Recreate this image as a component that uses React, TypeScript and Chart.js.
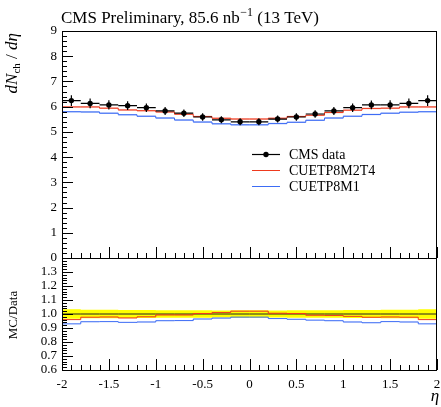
import React, { useEffect, useRef } from 'react';
import { Chart, registerables } from 'chart.js';

Chart.register(...registerables);

// ---------- data ----------
const binEdges = [-2, -1.8, -1.6, -1.4, -1.2, -1, -0.8, -0.6, -0.4, -0.2, 0, 0.2, 0.4, 0.6, 0.8, 1, 1.2, 1.4, 1.6, 1.8, 2];
const cmsData = [6.24, 6.13, 6.07, 6.04, 5.96, 5.83, 5.74, 5.59, 5.48, 5.40, 5.40, 5.51, 5.59, 5.71, 5.83, 5.96, 6.07, 6.07, 6.13, 6.24];
const cmsErr = [0.21, 0.19, 0.18, 0.17, 0.17, 0.16, 0.15, 0.15, 0.14, 0.14, 0.14, 0.14, 0.15, 0.15, 0.16, 0.17, 0.17, 0.18, 0.19, 0.21];
const cuetp8m2t4 = [5.99, 5.99, 5.94, 5.87, 5.84, 5.79, 5.70, 5.61, 5.54, 5.51, 5.51, 5.54, 5.61, 5.66, 5.77, 5.86, 5.93, 5.94, 5.99, 5.99];
const cuetp8m1 = [5.80, 5.79, 5.74, 5.68, 5.62, 5.55, 5.47, 5.39, 5.32, 5.28, 5.28, 5.33, 5.38, 5.46, 5.55, 5.62, 5.69, 5.74, 5.78, 5.80];
const mcErr = [0.03, 0.03, 0.03, 0.03, 0.03, 0.03, 0.03, 0.03, 0.03, 0.03, 0.03, 0.03, 0.03, 0.03, 0.03, 0.03, 0.03, 0.03, 0.03, 0.03];

const seriesNames = ['CMS data', 'CUETP8M2T4', 'CUETP8M1'];
const etaTicks = [-2, -1.5, -1, -0.5, 0, 0.5, 1, 1.5, 2];
const etaTickLabels = ['-2', '-1.5', '-1', '-0.5', '0', '0.5', '1', '1.5', '2'];
const mainYTicks = [0, 1, 2, 3, 4, 5, 6, 7, 8, 9];
const mainYTickLabels = ['0', '1', '2', '3', '4', '5', '6', '7', '8', '9'];
const ratioYTicks = [0.6, 0.7, 0.8, 0.9, 1.0, 1.1, 1.2, 1.3];
const ratioYTickLabels = ['0.6', '0.7', '0.8', '0.9', '1.0', '1.1', '1.2', '1.3'];

// ---------- style / layout ----------
const W = 441;
const H = 407;
const PLOT_LEFT = 62;
const PLOT_RIGHT = 439;
const PLOT_TOP = 31;
const PLOT_SPLIT = 258;
const PLOT_BOTTOM = 370;
const MAIN_MAX = 9;
const RATIO_MIN = 0.6;
const RATIO_TOP = 1.4;
const FONT = '"Liberation Serif", "Times New Roman", serif';
const RED = '#ee3a1e';
const BLUE = '#3d6cf5';
const RED_BAND = 'rgba(240, 90, 70, 0.45)';
const BLUE_BAND = 'rgba(90, 130, 245, 0.45)';
const YELLOW = '#ffff00';

const MAIN_MIN = -MAIN_MAX * (PLOT_BOTTOM - PLOT_SPLIT) / (PLOT_SPLIT - PLOT_TOP);
const RATIO_MAX = RATIO_MIN + (RATIO_TOP - RATIO_MIN) * (PLOT_BOTTOM - PLOT_TOP) / (PLOT_BOTTOM - PLOT_SPLIT);

function stepPts(vals: number[]) {
  return binEdges.map((x, i) => ({ x, y: vals[Math.min(i, vals.length - 1)] }));
}

const decor = {
  id: 'decor',
  afterDatasetsDraw(chart: any) {
    const ctx = chart.ctx as CanvasRenderingContext2D;
    const xs = chart.scales.x;
    const ys = chart.scales.yMain;
    ctx.save();
    ctx.strokeStyle = '#000';
    ctx.lineWidth = 1.2;
    for (let i = 0; i < cmsData.length; i++) {
      const xc = xs.getPixelForValue((binEdges[i] + binEdges[i + 1]) / 2);
      const x0 = xs.getPixelForValue(binEdges[i]);
      const x1 = xs.getPixelForValue(binEdges[i + 1]);
      const yc = ys.getPixelForValue(cmsData[i]);
      const ylo = ys.getPixelForValue(cmsData[i] - cmsErr[i]);
      const yhi = ys.getPixelForValue(cmsData[i] + cmsErr[i]);
      ctx.beginPath();
      ctx.moveTo(x0, yc);
      ctx.lineTo(x1, yc);
      ctx.moveTo(xc, ylo);
      ctx.lineTo(xc, yhi);
      ctx.stroke();
    }
    ctx.restore();
  },
  afterDraw(chart: any) {
    const ctx = chart.ctx as CanvasRenderingContext2D;
    const xs = chart.scales.x;
    const ys = chart.scales.yMain;
    const rs = chart.scales.yRatio;
    const L = Math.round(xs.getPixelForValue(-2));
    const R = Math.round(xs.getPixelForValue(2)) - 1;
    const T = Math.round(ys.getPixelForValue(MAIN_MAX));
    const S = Math.round(ys.getPixelForValue(0));
    const B = Math.round(rs.getPixelForValue(RATIO_MIN));
    ctx.save();
    ctx.strokeStyle = '#000';
    ctx.lineWidth = 1;
    // frames
    ctx.strokeRect(L + 0.5, T + 0.5, R - L, S - T);
    ctx.strokeRect(L + 0.5, S + 0.5, R - L, B - S);
    // ticks
    ctx.beginPath();
    for (let k = -20; k <= 20; k++) {
      const v = k / 10;
      const px = Math.round(xs.getPixelForValue(v)) + 0.5;
      const len = k % 5 === 0 ? 11 : 5;
      ctx.moveTo(px, S);
      ctx.lineTo(px, S - len);
      ctx.moveTo(px, B);
      ctx.lineTo(px, B - len);
    }
    for (let k = 0; k < 45; k++) {
      const v = k * 0.2;
      const py = Math.round(ys.getPixelForValue(v)) + 0.5;
      const len = k % 5 === 0 ? 11 : 5;
      ctx.moveTo(L, py);
      ctx.lineTo(L + len, py);
    }
    for (let k = 30; k < 70; k++) {
      const v = k / 50;
      const py = Math.round(rs.getPixelForValue(v)) + 0.5;
      const len = k % 5 === 0 ? 11 : 5;
      ctx.moveTo(L, py);
      ctx.lineTo(L + len, py);
    }
    ctx.stroke();

    // tick labels
    ctx.fillStyle = '#000';
    ctx.font = `13px ${FONT}`;
    ctx.textAlign = 'right';
    ctx.textBaseline = 'middle';
    mainYTicks.forEach((v, i) => {
      ctx.fillText(mainYTickLabels[i], L - 5, ys.getPixelForValue(v));
    });
    ratioYTicks.forEach((v, i) => {
      ctx.fillText(ratioYTickLabels[i], L - 5, rs.getPixelForValue(v));
    });
    ctx.textAlign = 'center';
    ctx.textBaseline = 'alphabetic';
    etaTicks.forEach((v, i) => {
      ctx.fillText(etaTickLabels[i], xs.getPixelForValue(v), B + 18);
    });

    // x axis title
    ctx.font = `italic 17px ${FONT}`;
    ctx.textAlign = 'center';
    ctx.fillText('η', 435, 401);

    // title
    ctx.textAlign = 'left';
    ctx.textBaseline = 'alphabetic';
    let tx = 61;
    const ty = 23;
    ctx.font = `17px ${FONT}`;
    const t1 = 'CMS Preliminary, 85.6 nb';
    ctx.fillText(t1, tx, ty);
    tx += ctx.measureText(t1).width;
    ctx.font = `12px ${FONT}`;
    const t2 = '−1';
    ctx.fillText(t2, tx + 0.5, ty - 7);
    tx += ctx.measureText(t2).width + 0.5;
    ctx.font = `17px ${FONT}`;
    ctx.fillText(' (13 TeV)', tx, ty);

    // y axis title (rotated): dN_ch / dη
    ctx.save();
    ctx.translate(17, 33);
    ctx.rotate(-Math.PI / 2);
    const parts: [string, string, number][] = [
      ['d', `italic 17px ${FONT}`, 0],
      ['N', `italic 17px ${FONT}`, 0],
      ['ch', `11px ${FONT}`, 3],
      [' / ', `17px ${FONT}`, 0],
      ['d', `italic 17px ${FONT}`, 0],
      ['η', `italic 17px ${FONT}`, 0],
    ];
    let total = 0;
    parts.forEach(([s, f]) => { ctx.font = f; total += ctx.measureText(s).width; });
    let px = -total;
    ctx.textAlign = 'left';
    parts.forEach(([s, f, dy]) => {
      ctx.font = f;
      ctx.fillText(s, px, dy);
      px += ctx.measureText(s).width;
    });
    ctx.restore();

    ctx.save();
    ctx.translate(17, (S + B) / 2 + 1);
    ctx.rotate(-Math.PI / 2);
    ctx.font = `13px ${FONT}`;
    ctx.textAlign = 'center';
    ctx.fillText('MC/Data', 0, 0);
    ctx.restore();

    // legend
    const colors = ['#000', RED, BLUE];
    ctx.font = `14px ${FONT}`;
    ctx.textBaseline = 'middle';
    ctx.textAlign = 'left';
    seriesNames.forEach((name, i) => {
      const yl = 154 + i * 16;
      ctx.strokeStyle = colors[i];
      ctx.lineWidth = i === 0 ? 1.2 : 1;
      ctx.beginPath();
      ctx.moveTo(252, yl + 0.5);
      ctx.lineTo(280, yl + 0.5);
      ctx.stroke();
      if (i === 0) {
        ctx.fillStyle = '#000';
        ctx.beginPath();
        ctx.arc(266, yl + 0.5, 2.7, 0, Math.PI * 2);
        ctx.fill();
      }
      ctx.fillStyle = '#000';
      ctx.fillText(name, 289, yl + 1);
    });
    ctx.restore();
  },
};

export default function App() {
  const ref = useRef<HTMLCanvasElement>(null);
  useEffect(() => {
    const canvas = ref.current;
    if (!canvas) return;
    const centers = binEdges.slice(0, -1).map((e, i) => (e + binEdges[i + 1]) / 2);
    const ratioOf = (vals: number[]) => vals.map((v, i) => v / cmsData[i]);
    const redRatio = ratioOf(cuetp8m2t4);
    const blueRatio = ratioOf(cuetp8m1);
    const dataRelErr = cmsErr.map((e, i) => e / cmsData[i]);
    const mcRelErr = mcErr.map((e, i) => e / cmsData[i]);
    const none = 'rgba(0,0,0,0)';
    const stepBase = { stepped: 'before' as const, pointRadius: 0, borderWidth: 1, fill: false };
    const bandLower = (vals: number[], axis: string, order: number) => ({
      ...stepBase, data: stepPts(vals), yAxisID: axis, borderColor: none, borderWidth: 0, order,
    });
    const bandUpper = (vals: number[], axis: string, order: number, color: string) => ({
      ...stepBase, data: stepPts(vals), yAxisID: axis, borderColor: none, borderWidth: 0, order,
      fill: '-1', backgroundColor: color,
    });

    const datasets: any[] = [
      // ratio panel
      bandLower(dataRelErr.map((e) => 1 - e), 'yRatio', 30),
      bandUpper(dataRelErr.map((e) => 1 + e), 'yRatio', 30, YELLOW),
      bandLower(redRatio.map((v, i) => v - mcRelErr[i] * 0.3), 'yRatio', 25),
      bandUpper(redRatio.map((v, i) => v + mcRelErr[i] * 0.3), 'yRatio', 25, RED_BAND),
      bandLower(blueRatio.map((v, i) => v - mcRelErr[i] * 0.3), 'yRatio', 25),
      bandUpper(blueRatio.map((v, i) => v + mcRelErr[i] * 0.3), 'yRatio', 25, BLUE_BAND),
      { ...stepBase, data: stepPts(cmsData.map(() => 1)), yAxisID: 'yRatio', borderColor: '#222', order: 20 },
      { ...stepBase, data: stepPts(redRatio), yAxisID: 'yRatio', borderColor: RED, order: 10 },
      { ...stepBase, data: stepPts(blueRatio), yAxisID: 'yRatio', borderColor: BLUE, order: 10 },
      // main panel
      bandLower(cuetp8m2t4.map((v, i) => v - mcErr[i]), 'yMain', 25),
      bandUpper(cuetp8m2t4.map((v, i) => v + mcErr[i]), 'yMain', 25, RED_BAND),
      bandLower(cuetp8m1.map((v, i) => v - mcErr[i]), 'yMain', 25),
      bandUpper(cuetp8m1.map((v, i) => v + mcErr[i]), 'yMain', 25, BLUE_BAND),
      { ...stepBase, data: stepPts(cuetp8m2t4), yAxisID: 'yMain', borderColor: RED, order: 10 },
      { ...stepBase, data: stepPts(cuetp8m1), yAxisID: 'yMain', borderColor: BLUE, order: 10 },
      {
        data: centers.map((x, i) => ({ x, y: cmsData[i] })), yAxisID: 'yMain', showLine: false,
        pointRadius: 2.7, pointBackgroundColor: '#000', pointBorderColor: '#000', pointBorderWidth: 0,
        borderColor: '#000', order: 0,
      },
    ];

    const chart = new Chart(canvas, {
      type: 'line',
      data: { datasets },
      options: {
        animation: false,
        responsive: false,
        maintainAspectRatio: false,
        layout: { padding: { left: PLOT_LEFT, right: W - PLOT_RIGHT, top: PLOT_TOP, bottom: H - PLOT_BOTTOM } },
        scales: {
          x: { type: 'linear', axis: 'x', min: -2, max: 2, display: false },
          yMain: { type: 'linear', axis: 'y', position: 'left', min: MAIN_MIN, max: MAIN_MAX, display: false },
          yRatio: { type: 'linear', axis: 'y', position: 'left', min: RATIO_MIN, max: RATIO_MAX, display: false },
        },
        plugins: {
          legend: { display: false },
          tooltip: { enabled: false },
          filler: { propagate: false },
        },
        elements: { line: { tension: 0 } },
      },
      plugins: [decor],
    } as any);
    return () => chart.destroy();
  }, []);
  return (
    <div style={{ position: 'fixed', left: 0, top: 0, width: W, height: H, background: '#fff' }}>
      <canvas ref={ref} width={W} height={H} style={{ display: 'block', width: W, height: H }} />
    </div>
  );
}
